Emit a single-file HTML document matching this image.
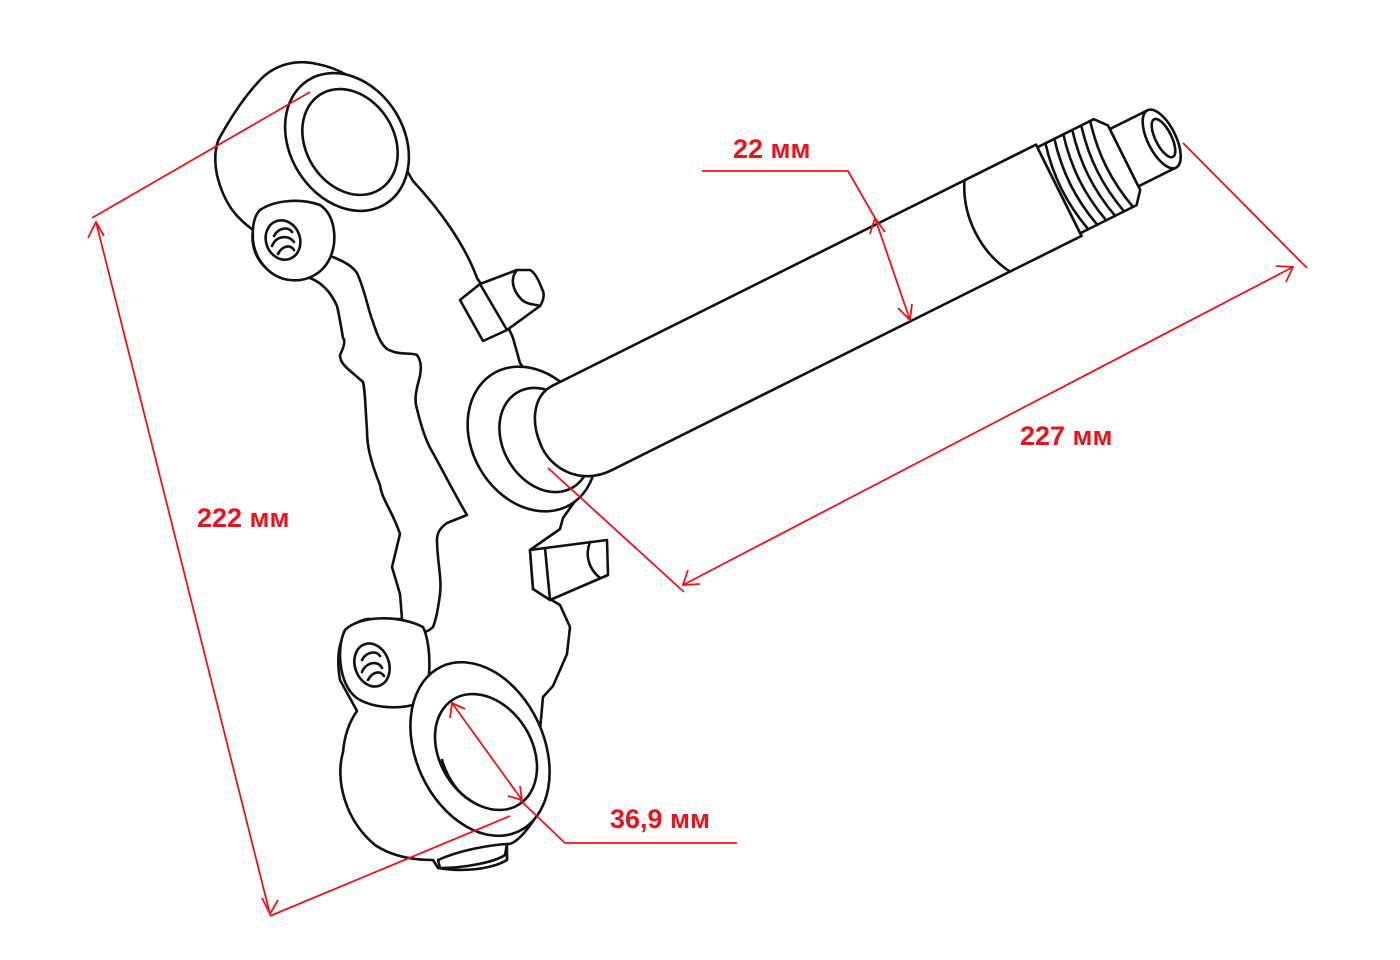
<!DOCTYPE html>
<html><head><meta charset="utf-8"><style>
html,body{margin:0;padding:0;background:#fff;}
svg{display:block;}
.k{fill:#fff;stroke:#111;stroke-width:2.6;stroke-linejoin:round;stroke-linecap:round;}
.n{fill:none;stroke:#111;stroke-width:2.6;stroke-linejoin:round;stroke-linecap:round;}
.r{fill:none;stroke:#e8141b;stroke-width:1.8;}
.t{font-family:"Liberation Sans",sans-serif;font-weight:bold;font-size:27px;fill:#e8141b;}
</style></head><body>
<svg width="1400" height="960" viewBox="0 0 1400 960" xmlns="http://www.w3.org/2000/svg">
<path class="k" d="M263,77 C280,62 300,60 317,64 C360,72 395,110 403,164 L413,181 C440,210 465,245 477,278 C495,305 508,325 513,338 L520,363 L560,420 L590,480 L563,518 L560,529 L530,550 L533,589 L560,605 L570,627 L567,654 L553,686 L543,697 L540,730 L545,800 C530,830 515,845 507,844 L507,860 C490,870 460,872 438,868 L433,860 C410,860 390,855 375,845 C345,820 335,780 343,752 C345,730 352,718 357,711 L340,680 C335,650 340,625 367,619 L402,619 L400,594 L392,567 L400,534 C392,510 382,500 380,485 C370,460 367,445 367,431 C365,400 365,390 363,382 C350,370 340,365 340,355 C345,345 345,340 343,338 C340,320 338,310 337,306 C330,290 320,282 310,278 L283,278 C260,270 250,250 253,230 C240,220 225,208 217,175 C214,160 215,145 220,137 C235,110 250,90 263,77 Z"/>
<ellipse class="k" cx="347" cy="142" rx="57" ry="73" transform="rotate(-32 347 142)"/>
<ellipse class="n" cx="350" cy="142" rx="44" ry="56" transform="rotate(-32 350 142)"/>
<path class="k" d="M260,210 C275,200 300,198 320,205 C335,215 338,240 330,258 C322,275 305,282 290,280 C270,278 255,260 253,240 C252,225 255,215 260,210 Z"/>
<ellipse class="k" cx="283" cy="240" rx="17" ry="20" transform="rotate(-20 283 240)"/>
<path class="n" d="M274,236 C278,228 288,226 292,232 M272,246 C276,236 288,234 294,242 M278,254 C282,246 290,244 294,250"/>
<path class="n" d="M333,257 C345,262 352,266 357,273 C365,290 368,310 373,322 C378,338 382,345 387,349 C400,356 410,352 417,355 C422,362 421,370 420,376 C416,390 414,400 417,409 C422,430 428,445 433,453 C445,475 458,500 467,515 L447,523 C440,528 437,533 437,540 C437,560 442,578 440,594 C438,610 436,620 433,627 C430,630 427,632 423,632"/>
<path class="k" d="M460,300 L483,341 L507,330 L540,306 C545,298 544,292 542,289 C538,278 534,272 530,270 L517,270 L480,284 Z"/>
<path class="n" d="M480,284 L507,330 M517,270 C510,278 512,290 522,300 C528,305 535,304 540,306"/>
<ellipse class="k" cx="532" cy="439" rx="60" ry="76" transform="rotate(-30 532 439)"/>
<ellipse class="k" cx="545" cy="440" rx="42" ry="55" transform="rotate(-30 545 440)"/>
<g transform="translate(580,429) rotate(-26.5)">
<path class="k" d="M-5,-51 L535,-51 L535,51 L10,51 C-25,51 -45,22 -42,-5 C-40,-32 -25,-51 -5,-51 Z"/>
<path class="n" d="M455,-51 C437,-20 437,20 455,51"/>
<path class="k" d="M535,-48 L598,-48 L608,-36 L608,36 L598,48 L535,48 Z"/>
<path class="n" d="M544,-48 C536,-15 536,15 544,48 M554,-48 C546,-15 546,15 554,48 M564,-48 C556,-15 556,15 564,48 M574,-48 C566,-15 566,15 574,48 M584,-48 C576,-15 576,15 584,48 M594,-48 C586,-15 586,15 594,48"/>
<path class="k" d="M608,-32 L650,-32 L650,32 L608,32 Z"/>
<ellipse class="k" cx="650" cy="0" rx="14" ry="32"/>
<ellipse class="n" cx="652" cy="0" rx="8" ry="21"/>
</g>
<path class="k" d="M530,550 L607,540 L608,575 L550,600 L533,589 Z"/>
<path class="n" d="M545,548 L550,600 M590,542 C585,555 588,568 600,578"/>
<path class="k" d="M345,630 C360,615 400,615 423,627 C432,645 432,690 420,703 C400,710 375,708 360,700 C340,690 335,650 345,630 Z"/>
<ellipse class="k" cx="372" cy="665" rx="17" ry="22" transform="rotate(-20 372 665)"/>
<path class="n" d="M362,660 C366,652 376,650 380,656 M362,672 C366,662 378,660 382,668 M368,680 C372,672 380,670 384,676"/>
<ellipse class="k" cx="480" cy="749" rx="64" ry="91" transform="rotate(-25 480 749)"/>
<ellipse class="k" cx="486" cy="752" rx="46" ry="62" transform="rotate(-32 486 752)"/>
<path class="n" d="M442,760 C448,780 460,795 470,800"/>
<path class="k" d="M438,860 C460,850 490,845 507,844 L505,855 C495,862 465,868 440,868 Z"/>
<g class="r">
<line x1="92" y1="218" x2="310" y2="92"/>
<line x1="96" y1="222" x2="270" y2="914"/>
<line x1="270" y1="916" x2="510" y2="816"/>
<path d="M88,238 L96,222 L104,236 M262,898 L270,914 L278,900"/>
<line x1="1183" y1="143" x2="1307" y2="268"/>
<line x1="548" y1="468" x2="684" y2="592"/>
<line x1="683" y1="585" x2="1293" y2="267"/>
<path d="M688,570 L683,585 L700,584 M1276,266 L1293,267 L1286,282"/>
<path d="M702,171 L848,171 L875,218"/>
<line x1="875" y1="218" x2="910" y2="320"/>
<path d="M870,234 L875,218 L885,232 M898,308 L910,320 L912,304"/>
<line x1="452" y1="703" x2="522" y2="800"/>
<path d="M520,800 L565,843 L737,843"/>
<path d="M450,718 L452,703 L465,709 M508,796 L522,800 L520,786"/>
</g>
<text class="t" x="733" y="158">22 мм</text>
<text class="t" x="1020" y="445">227 мм</text>
<text class="t" x="197" y="527">222 мм</text>
<text class="t" x="610" y="828">36,9 мм</text>
</svg>
</body></html>
